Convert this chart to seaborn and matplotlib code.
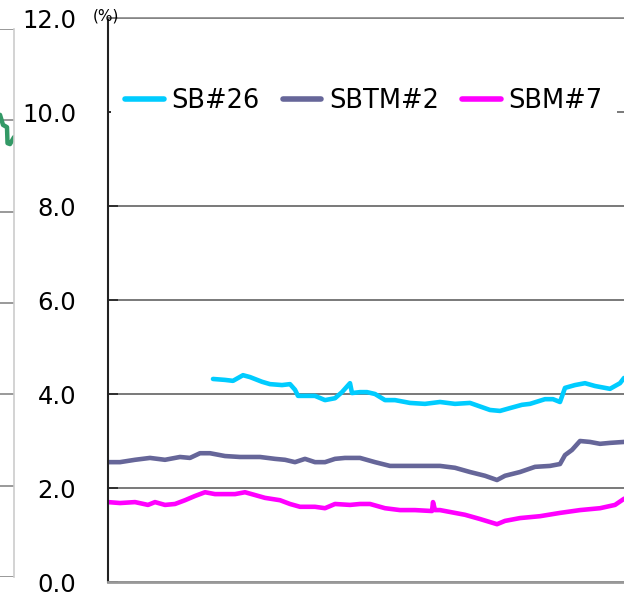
import matplotlib
matplotlib.use("Agg")

import matplotlib.pyplot as plt
import numpy as np
import pandas as pd
import seaborn as sns

sns.set_style("white")
plt.rcParams["font.family"] = ["DejaVu Sans"]
plt.rcParams["text.color"] = "black"
plt.rcParams["ytick.color"] = "black"

# --- data (x = days from start of the visible window) ---
SB26_X = [105, 117, 125, 135, 142, 154, 162, 174, 182, 187, 190, 197, 207, 217, 227, 234,
          242, 244, 252, 259, 267, 277, 287, 302, 317, 332, 347, 362, 382, 392, 402, 414,
          422, 437, 445, 452, 457, 467, 477, 487, 502, 512, 516, 525]
SB26_Y = [4.32, 4.30, 4.28, 4.40, 4.36, 4.26, 4.21, 4.19, 4.21, 4.09, 3.96, 3.96, 3.96,
          3.87, 3.91, 4.04, 4.23, 4.02, 4.04, 4.04, 4.00, 3.87, 3.87, 3.81, 3.79, 3.83,
          3.79, 3.81, 3.66, 3.64, 3.70, 3.77, 3.79, 3.89, 3.89, 3.83, 4.13, 4.19, 4.23,
          4.17, 4.11, 4.23, 4.34, 4.36]

SBTM2_X = [0, 12, 27, 42, 57, 72, 82, 92, 102, 117, 132, 152, 167, 177, 187, 197, 207, 217,
           227, 237, 247, 252, 267, 282, 302, 332, 347, 362, 377, 389, 397, 412, 427, 442,
           452, 457, 464, 472, 482, 492, 502, 516, 525]
SBTM2_Y = [2.55, 2.55, 2.60, 2.64, 2.60, 2.66, 2.64, 2.74, 2.74, 2.68, 2.66, 2.66, 2.62,
           2.60, 2.55, 2.62, 2.55, 2.55, 2.62, 2.64, 2.64, 2.64, 2.55, 2.47, 2.47, 2.47,
           2.43, 2.34, 2.26, 2.17, 2.26, 2.34, 2.45, 2.47, 2.51, 2.70, 2.81, 3.00, 2.98,
           2.94, 2.96, 2.98, 2.98]

SBM7_X = [0, 12, 27, 40, 47, 57, 67, 77, 87, 97, 107, 127, 137, 147, 157, 172, 182, 192,
          207, 217, 227, 242, 252, 262, 277, 292, 307, 324, 325, 327, 332, 342, 357, 372,
          389, 397, 412, 432, 452, 472, 492, 507, 516, 525]
SBM7_Y = [1.70, 1.68, 1.70, 1.64, 1.70, 1.64, 1.66, 1.74, 1.83, 1.91, 1.87, 1.87, 1.91,
          1.85, 1.79, 1.74, 1.66, 1.60, 1.60, 1.57, 1.66, 1.64, 1.66, 1.66, 1.57, 1.53,
          1.53, 1.51, 1.70, 1.53, 1.53, 1.49, 1.43, 1.34, 1.23, 1.30, 1.36, 1.40, 1.47,
          1.53, 1.57, 1.64, 1.77, 1.83]

# fragment of the neighbouring chart on the left
LEFT_X = [280, 290, 298, 301, 305, 305.5, 308, 312, 320]
LEFT_Y = [10.05, 10.10, 10.12, 9.90, 9.85, 9.50, 9.48, 9.63, 9.70]

SERIES = ["SB#26", "SBTM#2", "SBM#7"]
COLORS = {"SB#26": "#00CCFF", "SBTM#2": "#666699", "SBM#7": "#FF00FF"}
Y_TICKS = [0, 2, 4, 6, 8, 10, 12]

df = pd.concat([
    pd.DataFrame({"x": SB26_X, "y": SB26_Y, "series": "SB#26"}),
    pd.DataFrame({"x": SBTM2_X, "y": SBTM2_Y, "series": "SBTM#2"}),
    pd.DataFrame({"x": SBM7_X, "y": SBM7_Y, "series": "SBM#7"}),
], ignore_index=True)

W, H = 624, 593
fig = plt.figure(figsize=(W / 100, H / 100), dpi=100)

# ── left neighbour (only its right edge is in view) ──────────────────────────
axl = fig.add_axes([-298 / W, 1 - 577 / H, 312 / W, 548 / H])
sns.lineplot(x=LEFT_X, y=LEFT_Y, color="#339966", lw=3.2, ax=axl)
axl.set_xlim(0, 312)
axl.set_ylim(0, 12)
axl.set_yticks(Y_TICKS)
axl.set_xticks([])
axl.tick_params(left=False, labelleft=False)
axl.grid(axis="y", color="#888888", lw=1.2)
for s in ["left", "top", "bottom"]:
    axl.spines[s].set_visible(False)
axl.spines["right"].set_color("#cccccc")
axl.spines["right"].set_linewidth(1.2)

# ── main chart ───────────────────────────────────────────────────────────────
ax = fig.add_axes([108 / W, 1 - 582 / H, 592 / W, 564 / H])
sns.lineplot(data=df, x="x", y="y", hue="series", hue_order=SERIES, palette=COLORS,
             estimator=None, sort=False, lw=3.3, ax=ax)
ax.set_xlim(0, 592)
ax.set_ylim(0, 12)
ax.set_yticks(Y_TICKS)
ax.set_yticklabels([f"{v:.1f}" for v in Y_TICKS], fontsize=17.5)
ax.set_xticks([])
ax.set_xlabel("")
ax.set_ylabel("")
ax.tick_params(axis="y", direction="in", length=7, width=1.2, color="#222222",
               labelcolor="black", pad=23, left=True)
ax.grid(axis="y", color="#555555", lw=1.1)
ax.spines["left"].set_color("#222222")
ax.spines["left"].set_linewidth(1.5)
ax.spines["bottom"].set_color("#999999")
ax.spines["bottom"].set_linewidth(2)
ax.spines["top"].set_color("#888888")
ax.spines["top"].set_linewidth(1.2)
ax.spines["right"].set_visible(False)

leg = ax.legend(loc="center left", bbox_to_anchor=(111 / W, 1 - 101 / H),
                bbox_transform=fig.transFigure, ncol=3, fontsize=18.5, frameon=True,
                facecolor="white", edgecolor="none", framealpha=1, fancybox=False,
                handlelength=1.5, handletextpad=0.3, columnspacing=0.9,
                borderpad=0.55, borderaxespad=0, labelcolor="black")
for h in leg.get_lines():
    h.set_linewidth(4)

fig.text(106 / W, 1 - 16 / H, "(%)", fontsize=11, ha="center", va="center",
         color="black")

fig.savefig("out.png", dpi=100)
